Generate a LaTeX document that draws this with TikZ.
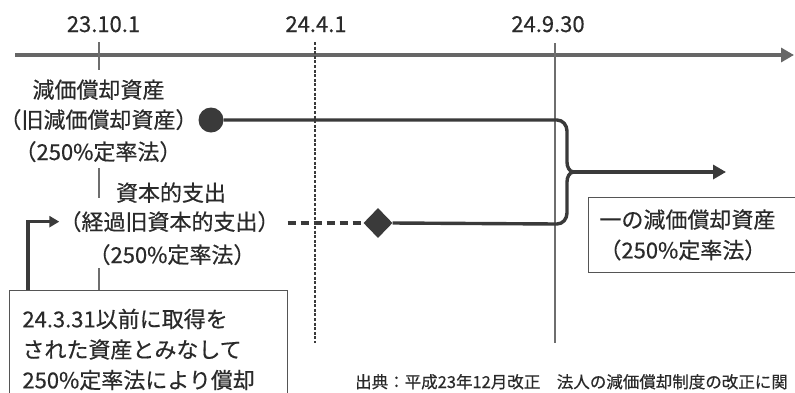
\documentclass[tikz,border=0pt]{standalone}
\usepackage{fontspec}
\setmainfont{Noto Sans CJK JP}[FakeBold=0.4]
\usetikzlibrary{arrows.meta,shapes.geometric}
\definecolor{ink}{HTML}{2A2A2A}
\definecolor{dark}{HTML}{3A3A3A}
\definecolor{axisgray}{HTML}{666666}
\definecolor{thingray}{HTML}{6E6E6E}
\definecolor{boxgray}{HTML}{555555}
\tikzset{
  lbl/.style={inner sep=0pt, text=ink, font=\fontsize{22}{30}\selectfont},
  datelbl/.style={lbl, anchor=base},
  conn/.style={draw=dark, line width=3.4pt},
  frame/.style={draw=boxgray, line width=0.9pt, anchor=north west, align=left, text=ink,
                font=\fontsize{22}{30.5}\selectfont},
}
\begin{document}
\begin{tikzpicture}[x=1pt,y=-1pt]
\useasboundingbox[fill=white] (0,0) rectangle (795,392);

% axis
\coordinate (axL) at (15,55);
\coordinate (axR) at (794,55);
\draw[axisgray, line width=3.2pt, -{Triangle[length=13pt,width=14pt]}] (axL) -- (axR);

% date labels
\node[datelbl] (d1) at (103.5,32) {23.10.1};
\node[datelbl] (d2) at (316,32) {24.4.1};
\node[datelbl] (d3) at (548,32) {24.9.30};

% 23.10.1 tick segments
\draw[thingray, line width=1.7pt] (99,42) -- (99,70);
\draw[thingray, line width=1.7pt] (99,168) -- (99,198);
\draw[thingray, line width=1.7pt] (99,268) -- (99,290);

% 24.4.1 dashed
\draw[dark, line width=2pt, dash pattern=on 3pt off 1.6pt] (315,42) -- (315,343);
% 24.9.30 solid
\draw[thingray, line width=1.7pt] (555,43) -- (555,343);

% group 1 text
\node[datelbl] (g1a) at (98.5,98) {減価償却資産};
\node[datelbl] (g1b) at (98.5,128) {（旧減価償却資産）};
\node[datelbl] (g1c) at (98,160) {（250\%定率法）};

% group 2 text
\node[datelbl] (g2a) at (171,201) {資本的支出};
\node[datelbl] (g2b) at (169.5,230) {（経過旧資本的支出）};
\node[datelbl] (g2c) at (172,263) {（250\%定率法）};

% dot and diamond
\node[circle, fill=dark, inner sep=0pt, minimum size=25pt] (dot) at (211,120) {};
\node[diamond, fill=dark, inner sep=0pt, minimum width=29pt, minimum height=30pt] (dia) at (378,223) {};

% brace
\coordinate (bt) at (574,172);
\coordinate (arrEnd) at (726,172);
\draw[conn] (dot.east) -- (557,120) to[out=0,in=90] (567,131) -- (567,162) to[out=-90,in=180] (bt);
\draw[conn] (dia.east) -- (557,224) to[out=0,in=-90] (567,213) -- (567,182) to[out=90,in=180] (bt);
\draw[conn, -{Triangle[length=13pt,width=14pt]}] (bt) -- (arrEnd);

% dashed line to diamond
\draw[conn, dash pattern=on 8pt off 5pt, shorten <=8pt] (g2b.east |- dia.west) -- (dia.west);

% left box
\node[frame, minimum width=278pt, minimum height=118pt, text width=252pt, inner xsep=13pt] (boxL) at (9,290)
  {24.3.31以前に取得を\\された資産とみなして\\250\%定率法により償却};
\coordinate (upStart) at (28,290);
\draw[conn, -{Triangle[length=10pt,width=11pt]}] (upStart) |- (g2b.west);

% right box
\node[frame, minimum width=220pt, minimum height=75pt, text width=200pt, inner xsep=11pt] (boxR) at (588,197)
  {一の減価償却資産\\（250\%定率法）};

% caption
\node[lbl, anchor=base west, font=\fontsize{16.5}{20}\selectfont] (src) at (355,388)
  {出典：平成23年12月改正　法人の減価償却制度の改正に関};
\end{tikzpicture}
\end{document}
